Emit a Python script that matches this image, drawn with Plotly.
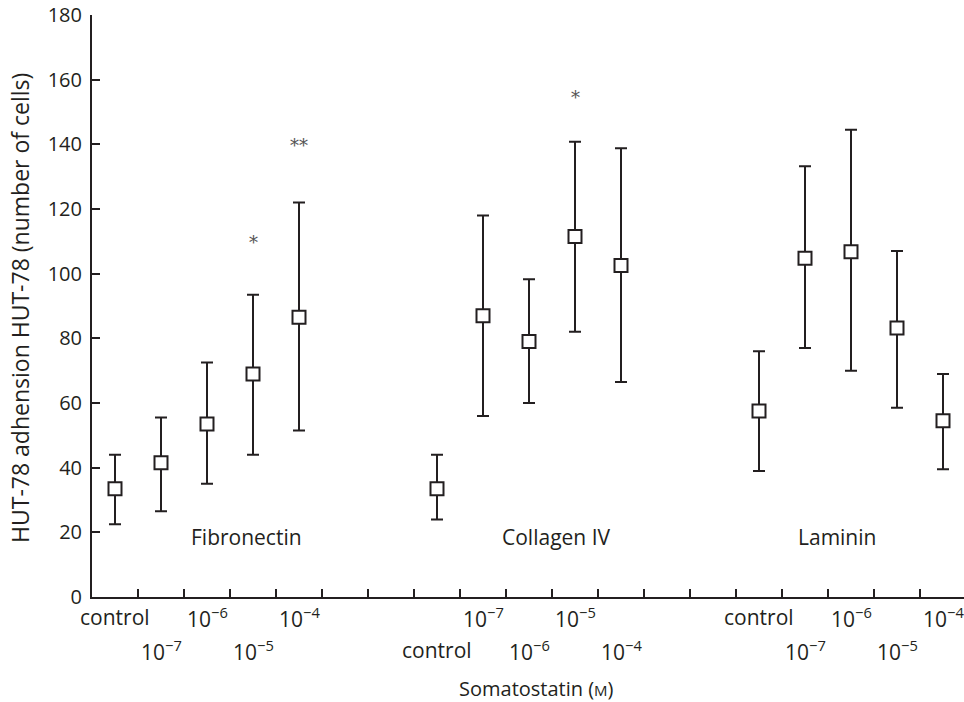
import plotly.graph_objects as go

# ---- data ----
dose_labels = ["control", "10<sup>\u22127</sup>", "10<sup>\u22126</sup>", "10<sup>\u22125</sup>", "10<sup>\u22124</sup>"]
groups = ["Fibronectin", "Collagen IV", "Laminin"]

fibronectin_mean = [33.5, 41.5, 53.5, 69.0, 86.5]
fibronectin_low = [22.5, 26.5, 35.0, 44.0, 51.5]
fibronectin_high = [44.0, 55.5, 72.5, 93.5, 122.0]

collagen_mean = [33.5, 87.0, 79.0, 111.5, 102.5]
collagen_low = [24.0, 56.0, 60.0, 82.0, 66.5]
collagen_high = [44.0, 118.0, 98.3, 140.8, 138.8]

laminin_mean = [57.5, 104.8, 106.8, 83.2, 54.5]
laminin_low = [39.0, 77.0, 70.0, 58.5, 39.5]
laminin_high = [76.0, 133.2, 144.5, 107.0, 69.0]

group_start = [0, 7, 14]           # slot offset of each group on the axis
label_rows_pattern = [[0, 1, 0, 1, 0], [1, 0, 1, 0, 1], [0, 1, 0, 1, 0]]

significance = [("*", 0, 3, 109.5), ("**", 0, 4, 139.5), ("*", 1, 3, 154.5)]

group_label_pos = [(3.35, 18.5), (10.1, 18.5), (16.2, 18.5)]

means = [fibronectin_mean, collagen_mean, laminin_mean]
lows = [fibronectin_low, collagen_low, laminin_low]
highs = [fibronectin_high, collagen_high, laminin_high]

TXT = "#231f20"
FONT = "Open Sans, Noto Sans, sans-serif"

fig = go.Figure()
for g in range(3):
    xs = [group_start[g] + i + 0.5 for i in range(5)]
    m = means[g]
    fig.add_trace(go.Scatter(
        x=xs, y=m, mode="markers", showlegend=False,
        marker=dict(symbol="square", size=13, color="white",
                    line=dict(color=TXT, width=2)),
        error_y=dict(type="data", symmetric=False,
                     array=[h - v for h, v in zip(highs[g], m)],
                     arrayminus=[v - l for v, l in zip(m, lows[g])],
                     color=TXT, thickness=2, width=6),
    ))

annotations = []
for g in range(3):
    for i, lab in enumerate(dose_labels):
        row = label_rows_pattern[g][i]
        annotations.append(dict(
            x=group_start[g] + i + 0.5, xref="x",
            y=0, yref="paper", yshift=(-20 if row == 0 else -53),
            text=lab, showarrow=False, xanchor="center", yanchor="middle",
            font=dict(size=21, color=TXT, family=FONT)))
    annotations.append(dict(
        x=group_label_pos[g][0], y=group_label_pos[g][1], xref="x", yref="y",
        text=groups[g], showarrow=False,
        font=dict(size=21, color=TXT, family=FONT)))

for txt, g, i, yv in significance:
    annotations.append(dict(
        x=group_start[g] + i + 0.5, y=yv, xref="x", yref="y",
        text=txt, showarrow=False,
        font=dict(size=18, color="#555555", family="DejaVu Serif, serif")))

annotations.append(dict(
    x=(536 - 92) / 46, xref="x", y=0, yref="paper", yshift=-91,
    text="Somatostatin (<span style='font-size:15px'>M</span>)",
    showarrow=False, yanchor="middle",
    font=dict(size=20, color=TXT, family=FONT)))

annotations.append(dict(
    x=0, xref="paper", xshift=-72, y=0.5, yref="paper", yshift=-2,
    text="HUT-78 adhension HUT-78 (number of cells)", textangle=-90,
    showarrow=False, xanchor="center", yanchor="middle",
    font=dict(size=23, color=TXT, family=FONT)))

fig.update_layout(
    width=964, height=702,
    margin=dict(l=92, r=0, t=15, b=105),
    paper_bgcolor="white", plot_bgcolor="white",
    annotations=annotations,
    xaxis=dict(range=[0, 872 / 46], tickvals=list(range(1, 19)), showticklabels=False,
               ticks="inside", ticklen=8, tickwidth=2, tickcolor=TXT,
               showline=True, linecolor=TXT, linewidth=2, showgrid=False,
               zeroline=False),
    yaxis=dict(range=[0, 180], tickvals=list(range(0, 181, 20)),
               ticks="inside", ticklen=8, tickwidth=2, tickcolor=TXT,
               showline=True, linecolor=TXT, linewidth=2, showgrid=False,
               zeroline=False, tickfont=dict(size=20, color=TXT, family=FONT),
               ticklabelstandoff=4),
)

fig.write_html("out.html", config={"displayModeBar": False},
               post_script="document.body.style.margin='0px';document.body.style.overflow='hidden';")
